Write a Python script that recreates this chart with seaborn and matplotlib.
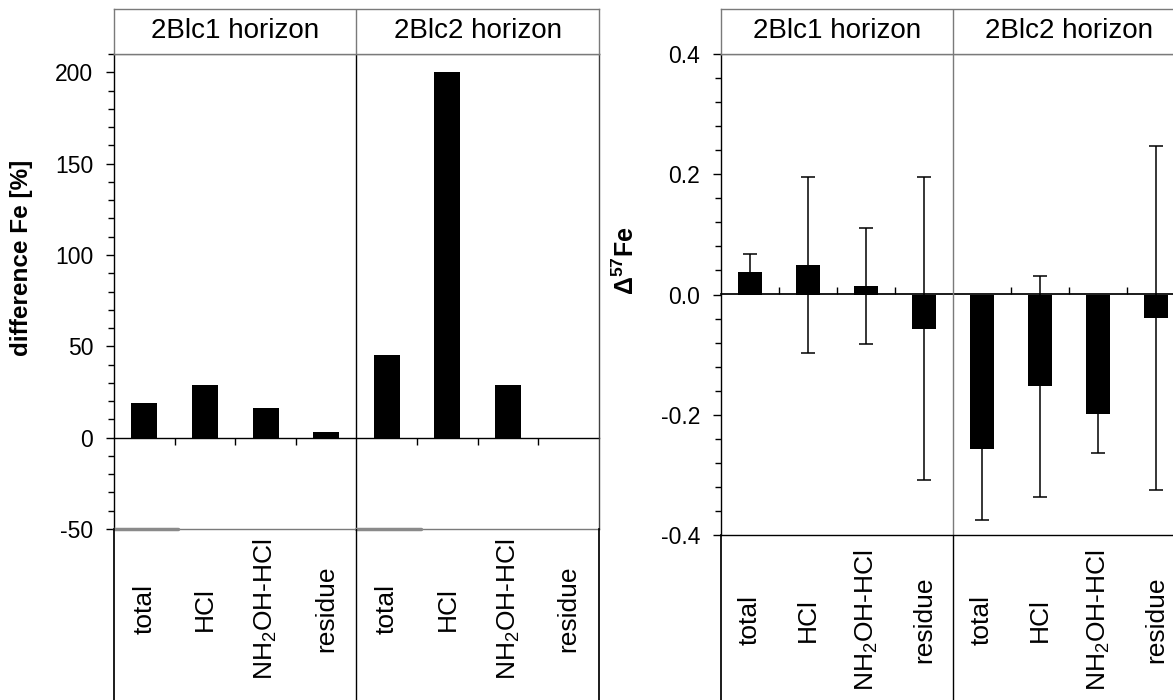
import numpy as np
import pandas as pd
import matplotlib
matplotlib.use("Agg")
import matplotlib.pyplot as plt
from matplotlib.ticker import MultipleLocator, FormatStrFormatter
import seaborn as sns

# ---- data ----
horizons = ["2Blc1 horizon", "2Blc2 horizon"]
fractions = ["total", "HCl", "NH$_2$OH-HCl", "residue"]
diff_fe_2blc1 = [19, 29, 16, 3]
diff_fe_2blc2 = [45.5, 200, 29, 0]
d57_2blc1 = [0.037, 0.049, 0.014, -0.057]
d57_2blc1_err = [0.030, 0.146, 0.097, 0.252]
d57_2blc2 = [-0.257, -0.153, -0.198, -0.039]
d57_2blc2_err = [0.118, 0.183, 0.066, 0.286]

rows = []
for h, dv, mv, ev in [(horizons[0], diff_fe_2blc1, d57_2blc1, d57_2blc1_err),
                      (horizons[1], diff_fe_2blc2, d57_2blc2, d57_2blc2_err)]:
    for f, d, m, e in zip(fractions, dv, mv, ev):
        rows.append({"slot": h + "|" + f, "horizon": h, "fraction": f,
                     "diff": d, "d57": m, "err": e})
df = pd.DataFrame(rows)
order = list(df["slot"])

sns.set_theme(style="ticks")
plt.rcParams["font.family"] = ["Liberation Sans", "DejaVu Sans"]
plt.rcParams["mathtext.fontset"] = "custom"
plt.rcParams["mathtext.rm"] = "Liberation Sans"
plt.rcParams["mathtext.it"] = "Liberation Sans:italic"
plt.rcParams["mathtext.bf"] = "Liberation Sans:bold"
for k in ["text.color", "axes.labelcolor", "xtick.color", "ytick.color",
          "axes.edgecolor"]:
    plt.rcParams[k] = "black"

W, H = 1173, 700
fig = plt.figure(figsize=(W / 100, H / 100), dpi=100)

GRAY = "#7a7a7a"


def panel(x0, w, ytop, ybot, ycol, ylim, major, minor, fmt, err, divcolor,
          botcolor, label_offset_px):
    ax = fig.add_axes([x0 / W, (H - ybot) / H, w / W, (ybot - ytop) / H])
    sns.barplot(data=df, x="slot", y=ycol, order=order, color="black",
                linewidth=0, width=0.43, errorbar=None, saturation=1,
                ax=ax)
    if err:
        xs = [p.get_x() + p.get_width() / 2 for p in ax.patches]
        ax.errorbar(xs, df[ycol], yerr=df["err"], fmt="none", ecolor="black",
                    elinewidth=1.1, capsize=5, capthick=1.1, zorder=5)
    ax.set_xlim(-0.5, 7.5)
    ax.set_ylim(*ylim)
    ax.set_xlabel("")
    ax.set_ylabel("")
    ax.yaxis.set_major_locator(MultipleLocator(major))
    ax.yaxis.set_minor_locator(MultipleLocator(minor))
    ax.yaxis.set_major_formatter(FormatStrFormatter(fmt))
    ax.tick_params(axis="y", which="major", length=6, width=1, labelsize=16.5,
                   pad=9, color="black", labelcolor="black")
    ax.tick_params(axis="y", which="minor", length=4, width=1, color="black")
    ax.set_xticks(range(8))
    ax.set_xticklabels(list(df["fraction"]))
    ax.tick_params(axis="x", length=0, labelsize=19, labelcolor="black",
                   pad=label_offset_px * 0.72)
    plt.setp(ax.get_xticklabels(), rotation=90, va="center", ha="center")
    ax.spines["left"].set_color("black")
    ax.spines["top"].set_color(GRAY)
    ax.spines["right"].set_color("#404040")
    ax.spines["bottom"].set_color(botcolor)
    for s in ax.spines.values():
        s.set_linewidth(1)
    ax.axvline(3.5, color=divcolor, lw=1)
    # zero line with category-boundary ticks
    frac = (0 - ylim[0]) / (ylim[1] - ylim[0])
    sec = ax.secondary_xaxis(frac)
    sec.set_xticks([0.5, 1.5, 2.5, 4.5, 5.5, 6.5])
    sec.set_xticklabels([])
    sec.tick_params(direction="out", length=5, width=1, color="black")
    sec.spines["bottom"].set_color("black")
    sec.spines["bottom"].set_linewidth(1)

    # header box
    hx = fig.add_axes([x0 / W, (H - 54) / H, w / W, 45 / H])
    hx.set_xlim(-0.5, 7.5)
    hx.set_ylim(0, 1)
    hx.set_xticks([])
    hx.set_yticks([])
    for s in hx.spines.values():
        s.set_color(GRAY)
        s.set_linewidth(1)
    hx.axvline(3.5, color=GRAY, lw=1)
    hx.text(1.5, 0.5, horizons[0], ha="center", va="center", fontsize=20,
            color="black")
    hx.text(5.5, 0.5, horizons[1], ha="center", va="center", fontsize=20,
            color="black")

    # label box below
    bx = fig.add_axes([x0 / W, 0, w / W, (H - ybot) / H])
    bx.set_facecolor("none")
    bx.set_xlim(-0.5, 7.5)
    bx.set_xticks([])
    bx.set_yticks([])
    bx.spines["top"].set_visible(False)
    bx.spines["bottom"].set_visible(False)
    bx.spines["left"].set_color("black")
    bx.spines["right"].set_color("black")
    bx.axvline(3.5, color="black", lw=1)
    return ax


axL = panel(114, 485, 54, 529, "diff", (-50, 210), 50, 10, "%d", False,
            "black", GRAY, 80)
# darker segments on the lower axis line below the "total" slots
axL.axhline(-50, xmin=0.0, xmax=0.132, color="#8a8a8a", lw=2.5, zorder=6,
            clip_on=False)
axL.axhline(-50, xmin=0.5, xmax=0.633, color="#8a8a8a", lw=2.5, zorder=6,
            clip_on=False)

axR = panel(721, 464, 54, 535, "d57", (-0.4, 0.4), 0.2, 0.04, "%.1f", True,
            GRAY, "black", 85)

fig.text(22 / W, 1 - 258 / H, "difference Fe [%]", rotation=90, ha="center",
         va="center", fontsize=17.5, fontweight="bold", color="black")
fig.text(626 / W, 1 - 261 / H, "Δ$^{\\mathbf{57}}$Fe", rotation=90,
         ha="center", va="center", fontsize=18, fontweight="bold",
         color="black")

fig.savefig("out.png", dpi=100, facecolor="white")
